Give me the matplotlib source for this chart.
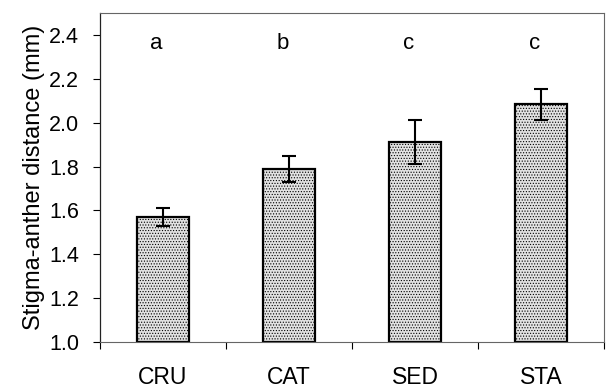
import numpy as np
import matplotlib.pyplot as plt
from matplotlib.ticker import FixedLocator

plt.rcParams['font.family'] = ['Liberation Sans', 'DejaVu Sans']
plt.rcParams['hatch.color'] = '#9c9c9c'
plt.rcParams['hatch.linewidth'] = 0.5

sites = ['CRU', 'CAT', 'SED', 'STA']
means = [1.572, 1.790, 1.910, 2.083]
errs = [0.041, 0.060, 0.100, 0.071]
letters = ['a', 'b', 'c', 'c']

fig = plt.figure(figsize=(6.08, 3.89), dpi=100)
ax = fig.add_axes([0.1645, 0.1208, 0.829, 0.8458])

x = np.arange(len(sites))
ax.bar(x, np.array(means) - 1.0, bottom=1.0, width=0.41,
       color='#e2e2e2', edgecolor='black', linewidth=1.6, hatch='......',
       zorder=2)
ax.errorbar(x, means, yerr=errs, fmt='none', ecolor='black',
            elinewidth=1.5, capsize=4.7, capthick=1.5, zorder=3)

# significance letters above the bars
for xi, lab in zip(x, letters):
    ax.text(xi - 0.05, 2.36, lab, ha='center', va='center', fontsize=16)

ax.set_xlim(-0.5, 3.5)
ax.set_ylim(1.0, 2.5)
yt = np.arange(1.0, 2.41, 0.2)
ax.set_yticks(yt)
ax.set_yticklabels([f'{v:.1f}' for v in yt])
ax.set_xticks(x)
ax.set_xticklabels(sites)
ax.xaxis.set_minor_locator(FixedLocator(np.arange(-0.5, 3.6, 1.0)))
ax.tick_params(axis='x', which='major', length=0, pad=17, labelsize=16.5)
ax.tick_params(axis='x', which='minor', length=5, width=0.8, direction='out')
ax.tick_params(axis='y', length=5, width=0.8, pad=10, labelsize=15.5)
ax.set_ylabel('Stigma-anther distance (mm)', fontsize=17, labelpad=3)

for side in ['top', 'right', 'bottom']:
    ax.spines[side].set_color('#666666')
    ax.spines[side].set_linewidth(0.8)
ax.spines['left'].set_color('#222222')
ax.spines['left'].set_linewidth(0.9)

fig.savefig('out.png', dpi=100)
